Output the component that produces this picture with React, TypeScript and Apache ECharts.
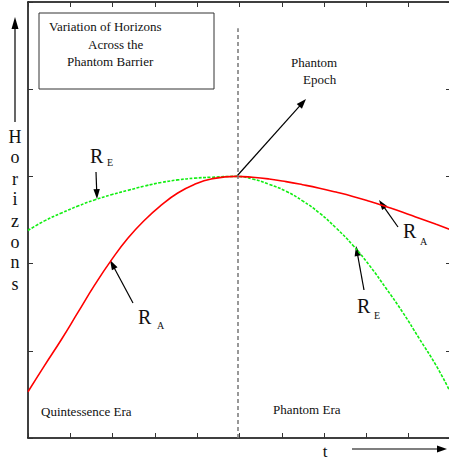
import React, { useEffect, useRef } from "react";
import * as echarts from "echarts";

// time samples (left: quintessence era, right: phantom era)
const tLeft = [0, 0.39, 0.79, 1.18, 1.57, 1.97, 2.36, 2.76, 3.15, 3.54, 3.94, 4.33, 4.92];
const tRight = [4.92, 5.31, 5.7, 6.1, 6.49, 6.89, 7.28, 7.68, 8.07, 8.46, 8.86, 9.25, 9.65, 9.96];

// apparent horizon R_A
const rALeft = [0.53, 0.83, 1.13, 1.44, 1.75, 2.04, 2.29, 2.5, 2.67, 2.81, 2.91, 2.97, 3.0];
const rARight = [3.0, 2.99, 2.97, 2.94, 2.905, 2.865, 2.82, 2.77, 2.715, 2.655, 2.59, 2.52, 2.45, 2.395];

// event horizon R_E
const rELeft = [2.38, 2.49, 2.58, 2.66, 2.73, 2.79, 2.84, 2.89, 2.93, 2.96, 2.98, 2.99, 3.0];
const rERight = [3.0, 2.97, 2.91, 2.83, 2.72, 2.58, 2.41, 2.21, 1.98, 1.72, 1.44, 1.14, 0.83, 0.55];

const barrierT = 4.95;
const xTicks = [0, 1, 2, 3, 4, 5, 6, 7, 8, 9, 10];
const yTicks = [0, 1, 2, 3, 4, 5];

const SERIF = "Liberation Serif, Times New Roman, serif";

function arrow(x1: number, y1: number, x2: number, y2: number, head = 10, half = 3.5, lw = 1.2) {
  const dx = x2 - x1;
  const dy = y2 - y1;
  const len = Math.sqrt(dx * dx + dy * dy);
  const ux = dx / len;
  const uy = dy / len;
  const bx = x2 - ux * head;
  const by = y2 - uy * head;
  const px = -uy;
  const py = ux;
  return [
    {
      type: "line",
      shape: { x1, y1, x2: bx + ux * 1, y2: by + uy * 1 },
      style: { stroke: "#000", lineWidth: lw },
      silent: true,
    },
    {
      type: "polygon",
      shape: {
        points: [
          [x2, y2],
          [bx + px * half, by + py * half],
          [bx - px * half, by - py * half],
        ],
      },
      style: { fill: "#000" },
      silent: true,
    },
  ];
}

function txt(text: string, x: number, y: number, size: number, align = "left") {
  return {
    type: "text",
    x,
    y,
    silent: true,
    style: {
      text,
      fill: "#111",
      font: `${size}px ${SERIF}`,
      align,
      verticalAlign: "middle",
    },
  };
}

export default function App() {
  const ref = useRef<HTMLDivElement>(null);

  useEffect(() => {
    document.body.style.margin = "0";
    document.body.style.overflow = "hidden";
    const chart = echarts.init(ref.current!, null, { renderer: "svg" });

    const raData = tLeft
      .map((t, i) => [t, rALeft[i]])
      .concat(tRight.slice(1).map((t, i) => [t, rARight[i + 1]]));
    const reData = tLeft
      .map((t, i) => [t, rELeft[i]])
      .concat(tRight.slice(1).map((t, i) => [t, rERight[i + 1]]));

    const axisCommon = {
      axisLine: { show: true, onZero: false, lineStyle: { color: "#000", width: 1.5 } },
      axisTick: { show: true, inside: true, length: 5, lineStyle: { color: "#333", width: 1 } },
      axisLabel: { show: false },
      splitLine: { show: false },
    };

    const horizonsLetters = ["H", "o", "r", "i", "z", "o", "n", "s"];
    const letterY = [137, 157, 179, 199, 221, 242, 262, 284];

    const graphics: any[] = [
      {
        type: "rect",
        shape: { x: 39, y: 13, width: 175, height: 76 },
        style: { fill: "none", stroke: "#333", lineWidth: 1 },
        silent: true,
      },
      txt("Variation of Horizons", 49, 26, 13),
      txt("Across the", 88, 44, 13),
      txt("Phantom Barrier", 67, 61, 13),
      txt("Phantom", 291, 62, 13),
      txt("Epoch", 303, 79, 13),
      txt("Quintessence Era", 41, 411, 13),
      txt("Phantom Era", 273, 409, 13),
      txt("t", 325, 451, 17, "center"),
      txt("R", 90, 156, 20),
      txt("E", 107, 162, 10),
      txt("R", 138, 317, 20),
      txt("A", 157, 325, 10),
      txt("R", 403, 231, 20),
      txt("A", 420, 241, 10),
      txt("R", 357, 306, 20),
      txt("E", 374, 315, 10),
      ...horizonsLetters.map((c, i) => txt(c, 15, letterY[i], 18, "center")),
      ...arrow(15, 122, 15, 17, 12, 3.5),
      ...arrow(352, 449, 447, 449, 10, 3.5),
      ...arrow(237, 176, 306, 99, 10, 3.5),
      ...arrow(96, 172, 97, 199, 10, 3.2),
      ...arrow(133, 303, 110, 260, 10, 3.2),
      ...arrow(398, 227, 379, 200, 10, 3.2),
      ...arrow(364, 290, 356, 246, 10, 3.2),
    ];

    chart.setOption({
      animation: false,
      backgroundColor: "#fff",
      grid: { left: 28, right: 2, top: 2, bottom: 25, containLabel: false },
      xAxis: [
        { type: "value", position: "bottom", min: xTicks[0], max: xTicks[xTicks.length - 1], interval: 1, ...axisCommon },
        { type: "value", position: "top", min: xTicks[0], max: xTicks[xTicks.length - 1], interval: 1, ...axisCommon },
      ],
      yAxis: [
        { type: "value", position: "left", min: yTicks[0], max: yTicks[yTicks.length - 1], interval: 1, ...axisCommon },
        { type: "value", position: "right", min: yTicks[0], max: yTicks[yTicks.length - 1], interval: 1, ...axisCommon },
      ],
      series: [
        {
          name: "R_E",
          type: "line",
          data: reData,
          smooth: 0.5,
          showSymbol: false,
          lineStyle: { color: "#11ee11", width: 1.6, type: [3, 1.5] },
          z: 3,
          markLine: {
            silent: true,
            symbol: "none",
            label: { show: false },
            lineStyle: { color: "#777", width: 1.5, type: [4, 3] },
            data: [
              [
                { coord: [barrierT, 0] },
                { coord: [barrierT, 4.7] },
              ],
            ],
          },
        },
        {
          name: "R_A",
          type: "line",
          data: raData,
          smooth: 0.5,
          showSymbol: false,
          lineStyle: { color: "#ff0000", width: 1.6 },
          z: 4,
        },
      ],
      graphic: graphics,
    });

    return () => chart.dispose();
  }, []);

  return (
    <div
      ref={ref}
      style={{ position: "fixed", left: 0, top: 0, width: 453, height: 463 }}
    />
  );
}
